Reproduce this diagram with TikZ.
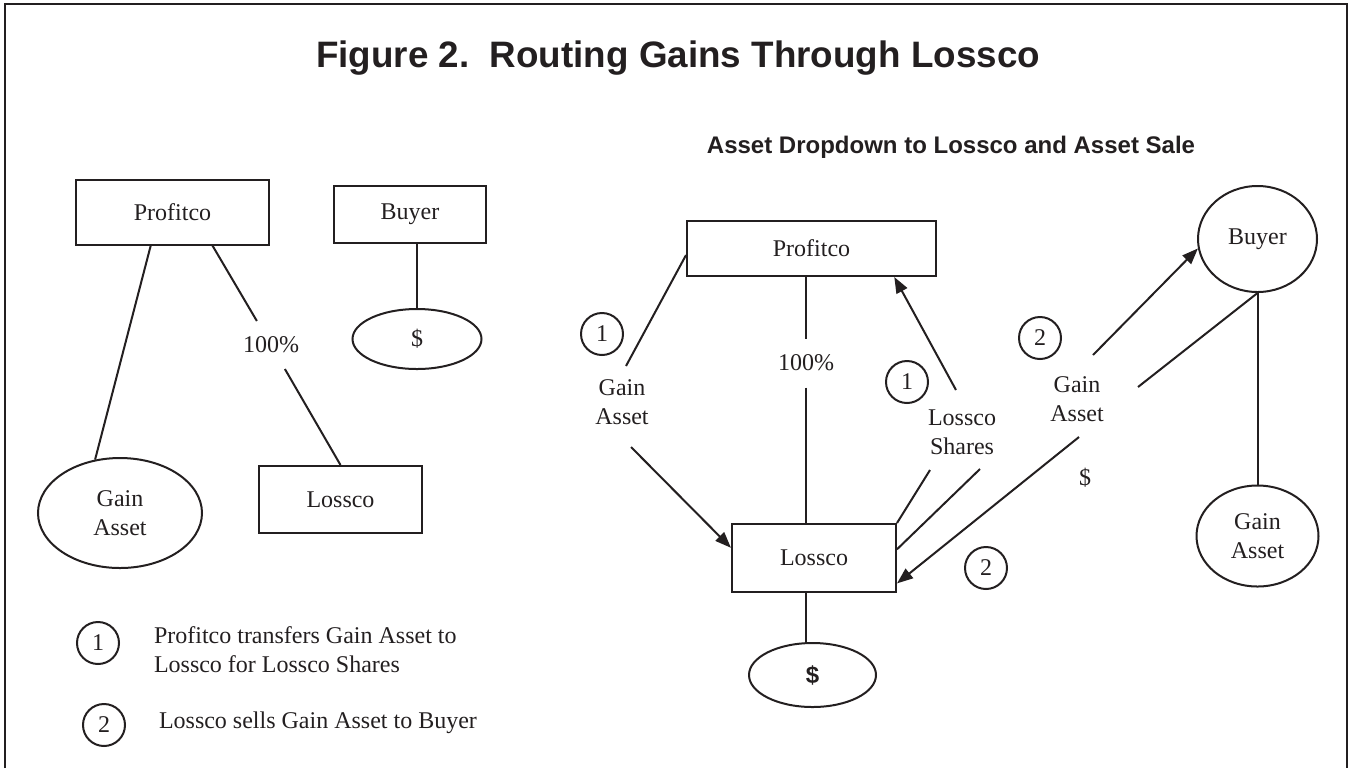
\documentclass[tikz,border=0pt]{standalone}
\usepackage{fontspec}
\setmainfont{Liberation Serif}
\setsansfont{Liberation Sans}
\definecolor{figInk}{RGB}{35,31,32}
\usetikzlibrary{shapes.geometric,arrows.meta}

\begin{document}
\begin{tikzpicture}[x=0.5pt, y=-0.5pt, line width=1pt, color=figInk,
    every node/.style={font=\fontsize{12}{14.5}\selectfont},
    entity/.style={draw, rectangle, inner sep=0pt},
    holder/.style={draw, ellipse, inner sep=0pt},
    stepno/.style={draw, circle, minimum size=21pt, inner sep=0pt},
    lbl/.style={align=center},
    flow/.style={-{Triangle[length=8pt, width=6pt]}}]
  \useasboundingbox (0,0) rectangle (1350,768);
  % Frame and headings
  \draw[line width=0.6pt] (5,768) -- (5,4) -- (1347,4) -- (1347,768);
  \node[font=\fontsize{18.4}{22}\selectfont\sffamily\bfseries, anchor=base]
    (title) at (678,67) {Figure 2.\ \ Routing Gains Through Lossco};
  \node[font=\fontsize{12}{14.5}\selectfont\sffamily\bfseries, anchor=base]
    (subtitle) at (951,153) {Asset Dropdown to Lossco and Asset Sale};

  % Before: Profitco holds Gain Asset and Lossco
  \node[entity, minimum width=96.5pt, minimum height=32.5pt] (profL) at (172.5,212) {Profitco};
  \node[entity, minimum width=76pt, minimum height=28.5pt] (buyerL) at (410,214.5) {Buyer};
  \node[holder, minimum width=64.5pt, minimum height=30pt] (dollarL) at (417,339) {\$};
  \node[holder, lbl, minimum width=82pt, minimum height=55pt] (gainL) at (120,513) {Gain\\Asset};
  \node[entity, minimum width=81.5pt, minimum height=33.5pt] (lossL) at (340.5,499.5) {Lossco};
  \node[minimum height=23pt, inner sep=1pt] (pctL) at (271,345) {100\%};
  \draw (profL.237) -- (gainL.115);
  \draw (profL.-40) -- (pctL);
  \draw (pctL) -- (lossL.north);
  \draw (buyerL.south -| dollarL.north) -- (dollarL.north);

  % After: dropdown to Lossco, then sale to Buyer
  \node[entity, minimum width=124.5pt, minimum height=27.5pt] (profR) at (811.5,248.5) {Profitco};
  \node[entity, minimum width=82pt, minimum height=34pt] (lossR) at (814,558) {Lossco};
  \node[holder, minimum width=63.5pt, minimum height=32pt,
    font=\fontsize{12}{14.5}\selectfont\sffamily\bfseries] (dollarR) at (812.5,675) {\$};
  \node[holder, minimum width=59.5pt, minimum height=53pt] (buyerR) at (1257.5,239) {Buyer};
  \node[holder, lbl, minimum width=61pt, minimum height=50.5pt] (gainR) at (1257.5,536) {Gain\\Asset};
  \node[minimum height=23.5pt, inner sep=1pt] (pctR) at (806,363) {100\%};
  \draw (pctR |- profR.south) -- (pctR);
  \draw (pctR) -- (pctR |- lossR.north);
  \draw (lossR.south -| pctR) -- (dollarR.north -| pctR);
  \draw (buyerR) -- (gainR);

  % Step 1: Gain Asset down, Lossco Shares up
  \node[stepno] (num1a) at (602,334) {1};
  \node[lbl] (gainLblR) at (622,402) {Gain\\Asset};
  \coordinate (gaTopR) at (626,366);
  \coordinate (gaBotR) at (631,447);
  \draw (profR.183) -- (gaTopR);
  \draw[flow] (gaBotR) -- (lossR.173);
  \node[stepno] (num1b) at (907,382) {1};
  \node[lbl] (sharesLbl) at (962,432) {Lossco\\Shares};
  \coordinate (shTop) at (956,390);
  \coordinate (shBot) at (930,470);
  \draw[flow] (shTop) -- (profR.-19);
  \draw (lossR.north east) -- (shBot);

  % Step 2: Gain Asset to Buyer, cash back to Lossco
  \node[stepno] (num2a) at (1040,338) {2};
  \node[stepno] (num2b) at (986,568) {2};
  \node[lbl] (gainLblB) at (1077,399) {Gain\\Asset};
  \node (cashLbl) at (1085,478) {\$};
  \coordinate (gbBot) at (980,469);
  \coordinate (gbTop) at (1093,355);
  \draw (lossR.6) -- (gbBot);
  \draw[flow] (gbTop) -- (buyerR.189);
  \coordinate (cashTop) at (1138,387);
  \coordinate (cashBot) at (1079,437);
  \draw (buyerR.south) -- (cashTop);
  \draw[flow] (cashBot) -- (lossR.-17);

  % Key
  \node[stepno] (key1) at (98,643) {1};
  \node[anchor=west, align=left, inner sep=0pt] (keyText1) at (153,650)
    {Profitco transfers Gain Asset to\\Lossco for Lossco Shares};
  \node[stepno] (key2) at (104,725) {2};
  \node[anchor=base west, inner sep=0pt] (keyText2) at (158,728) {Lossco sells Gain Asset to Buyer};
\end{tikzpicture}
\end{document}
